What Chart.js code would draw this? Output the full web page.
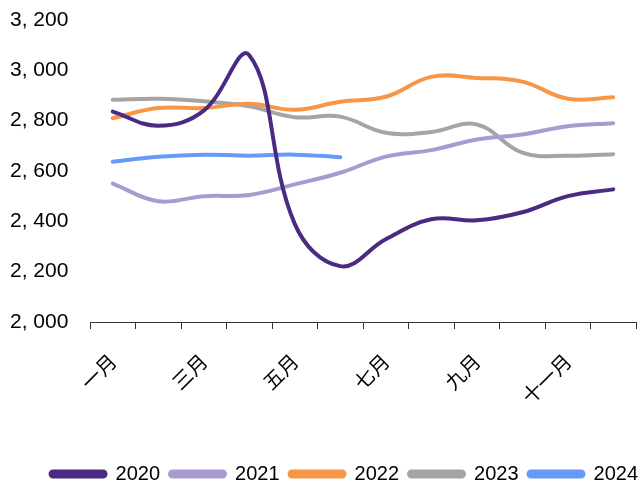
<!DOCTYPE html>
<html>
<head>
<meta charset="utf-8">
<script src="https://cdn.jsdelivr.net/npm/chart.js@4"></script>
<style>
  html, body { margin: 0; padding: 0; background: #fff; }
  #wrap { width: 640px; height: 484px; }
</style>
</head>
<body>
<div id="wrap"><canvas id="lineChart"></canvas></div>
<script>
const months = ['一月', '二月', '三月', '四月', '五月', '六月', '七月', '八月', '九月', '十月', '十一月', '十二月'];
const yTicks = [2000, 2200, 2400, 2600, 2800, 3000, 3200];

const s2020 = [2836, 2780, 2840, 3060, 2390, 2222, 2329, 2408, 2404, 2436, 2500, 2527];
const s2021 = [2550, 2480, 2500, 2505, 2547, 2593, 2657, 2683, 2725, 2745, 2778, 2790];
const s2022 = [2810, 2850, 2850, 2867, 2843, 2875, 2895, 2974, 2970, 2955, 2887, 2893];
const s2023 = [2883, 2887, 2877, 2857, 2814, 2816, 2752, 2755, 2785, 2673, 2661, 2667];
const s2024 = [2637, 2657, 2665, 2661, 2665, 2655];

const cjkFont = "'Noto Sans CJK SC', 'DejaVu Sans', sans-serif";
const numFont = "'Liberation Sans', Arial, sans-serif";

function serie(label, data, color) {
    return {
        label: label,
        data: data,
        borderColor: color,
        backgroundColor: color,
        borderWidth: 4,
        pointRadius: 0,
        tension: 0.4,
        borderCapStyle: 'round',
        fill: false
    };
}

// push the legend a little to the right, like the original
const shiftLegend = {
    id: 'shiftLegend',
    afterLayout: function (chart) {
        chart.legend.left += 12;
        chart.legend.right += 12;
    }
};

const ctx = document.getElementById('lineChart').getContext('2d');
const lineChart = new Chart(ctx, {
    type: 'line',
    data: {
        labels: months,
        datasets: [
            serie('2020', s2020, '#4B2A84'),
            serie('2021', s2021, '#A99BD0'),
            serie('2022', s2022, '#F79646'),
            serie('2023', s2023, '#A5A5A5'),
            serie('2024', s2024, '#6699F8')
        ]
    },
    plugins: [shiftLegend],
    options: {
        responsive: true,
        maintainAspectRatio: false,
        animation: false,
        layout: { padding: { top: 20, right: 4, left: 10, bottom: -10 } },
        scales: {
            x: {
                offset: true,
                grid: { display: true, drawOnChartArea: false, drawTicks: true, tickLength: 7, color: '#333', offset: true },
                border: { display: true, color: '#333', width: 1 },
                ticks: {
                    color: '#000',
                    // only every other month is labelled, the others get a tiny font so they take no room
                    font: function (c) {
                        return { family: cjkFont, size: c.index % 2 === 0 ? 20 : 1 };
                    },
                    minRotation: 45,
                    maxRotation: 45,
                    autoSkip: false,
                    padding: 20,
                    callback: function (value, index) {
                        return index % 2 === 0 ? months[index] : '';
                    }
                },
                afterFit: function (scale) { scale.height = 132; }
            },
            y: {
                min: 2000,
                max: 3200,
                afterBuildTicks: function (scale) {
                    scale.ticks = yTicks.map(v => ({ value: v }));
                },
                grid: { display: false },
                border: { display: false },
                ticks: {
                    color: '#000',
                    font: { family: numFont, size: 21 },
                    padding: 0,
                    crossAlign: 'far',
                    callback: function (value) {
                        return Math.floor(value / 1000) + ', ' + String(value % 1000).padStart(3, '0');
                    }
                },
                afterFit: function (scale) { scale.width = 80; }
            }
        },
        plugins: {
            legend: {
                position: 'bottom',
                align: 'end',
                labels: {
                    color: '#000',
                    font: { family: numFont, size: 20 },
                    boxWidth: 55,
                    boxHeight: 5,
                    useBorderRadius: true,
                    borderRadius: 2.5,
                    padding: 10
                }
            },
            tooltip: { enabled: false }
        }
    }
});
</script>
</body>
</html>
